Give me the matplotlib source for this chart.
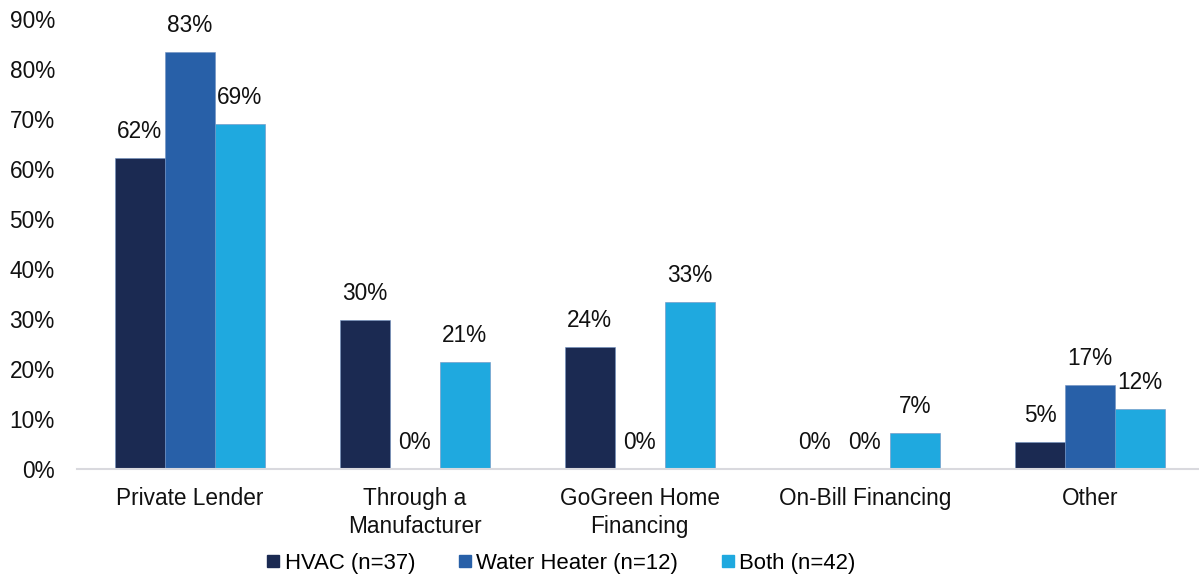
import matplotlib
matplotlib.use("Agg")
import matplotlib.pyplot as plt
from matplotlib.lines import Line2D
import numpy as np

categories = ["Private Lender", "Through a\nManufacturer", "GoGreen Home\nFinancing", "On-Bill Financing", "Other"]
series_names = ["HVAC (n=37)", "Water Heater (n=12)", "Both (n=42)"]
hvac = [62.2, 29.8, 24.4, 0.0, 5.4]
water_heater = [83.4, 0.0, 0.0, 0.0, 16.8]
both = [69.0, 21.4, 33.4, 7.2, 12.0]
labels_hvac = ["62%", "30%", "24%", "0%", "5%"]
labels_wh = ["83%", "0%", "0%", "0%", "17%"]
labels_both = ["69%", "21%", "33%", "7%", "12%"]
yticks = [0, 10, 20, 30, 40, 50, 60, 70, 80, 90]
colors = ["#1B2A52", "#2860A8", "#1FA9DF"]

plt.rcParams['font.family'] = ['Liberation Sans', 'DejaVu Sans']
FS = 16.3

fig = plt.figure(figsize=(11.99, 5.77), dpi=100)
W, H = 1199, 577
left_px, right_px = 77, 1202.5
ax = fig.add_axes([left_px / W, (H - 469) / H, (right_px - left_px) / W, 450 / H])

x = np.arange(len(categories))
bw = 0.222
series = [hvac, water_heater, both]
labs = [labels_hvac, labels_wh, labels_both]
for i, (vals, lab, c) in enumerate(zip(series, labs, colors)):
    pos = x + (i - 1) * bw
    ax.bar(pos, vals, width=bw, color=c, edgecolor="#6F8FC0", linewidth=0.4, zorder=2)
    for p, v, t in zip(pos, vals, lab):
        ax.annotate(t, (p, v), xytext=(0, 11), textcoords="offset points",
                    ha="center", va="bottom", fontsize=FS, color="#111111")

ax.set_xlim(-0.5, len(categories) - 0.5)
ax.set_ylim(0, 90)
ax.set_yticks(yticks)
ax.set_yticklabels([f"{t}%" for t in yticks], fontsize=FS, color="#111111")
ax.set_xticks(x)
ax.set_xticklabels(categories, fontsize=FS, color="#111111", linespacing=1.27)
ax.tick_params(axis="y", length=0, pad=16)
ax.tick_params(axis="x", length=0, pad=13)
for s in ["top", "right", "left"]:
    ax.spines[s].set_visible(False)
ax.spines["bottom"].set_color("#D9D9DE")
ax.spines["bottom"].set_linewidth(1.5)

handles = [Line2D([0], [0], marker="s", linestyle="none", markersize=8.6,
                  markerfacecolor=c, markeredgecolor=c) for c in colors]
fig.legend(handles, series_names, loc="center", bbox_to_anchor=(561 / W, (H - 563) / H),
           ncol=3, frameon=False, fontsize=15.9, handletextpad=0.22, columnspacing=1.95,
           handlelength=0.6)

fig.savefig("out.png", dpi=100)
